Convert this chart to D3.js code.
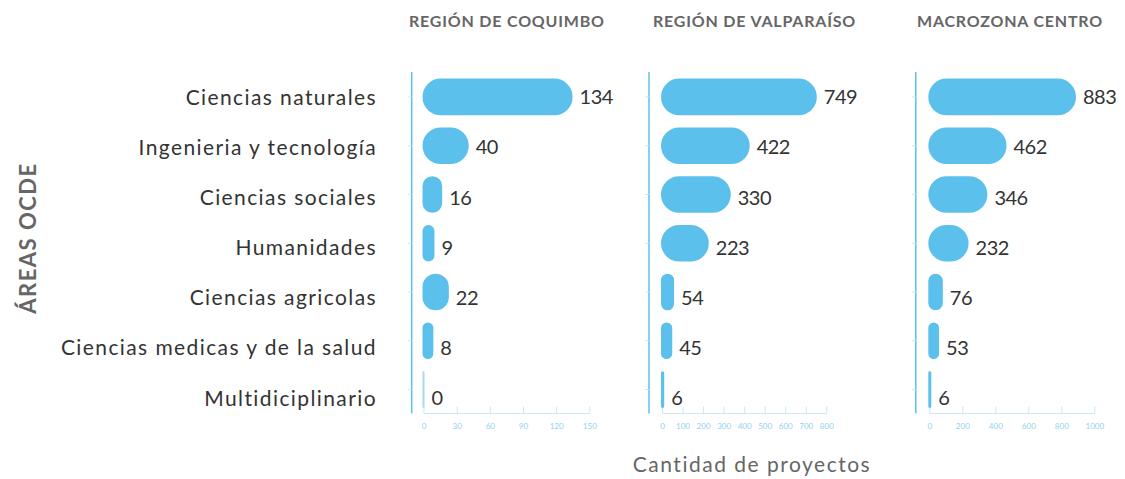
<!DOCTYPE html>
<html lang="es">
<head>
	<meta charset="UTF-8">
	<title>Áreas OCDE</title>
	<script src="https://d3js.org/d3.v7.min.js"></script>
	<style>
		body { margin: 0; background: #fff; }
		text { font-family: Lato, "Noto Sans", sans-serif; }
	</style>
</head>
<body>
	<div class="box"></div>

	<script type="text/javascript">
		let categories = ['Ciencias naturales', 'Ingenieria y tecnología', 'Ciencias sociales', 'Humanidades', 'Ciencias agricolas', 'Ciencias medicas y de la salud', 'Multidiciplinario']
		let regions = ['REGIÓN DE COQUIMBO', 'REGIÓN DE VALPARAÍSO', 'MACROZONA CENTRO']
		let coquimbo = [134, 40, 16, 9, 22, 8, 0]
		let valparaiso = [749, 422, 330, 223, 54, 45, 6]
		let macrozona = [883, 462, 346, 232, 76, 53, 6]
		let ticksCoquimbo = [0, 30, 60, 90, 120, 150]
		let ticksValparaiso = [0, 100, 200, 300, 400, 500, 600, 700, 800]
		let ticksMacrozona = [0, 200, 400, 600, 800, 1000]

		let width = 1125
		let height = 479
		let barColor = '#5bc0eb'
		let axisColor = '#5bc0eb'
		let lightAxis = '#c9e9f8'
		let tickText = '#8fd2f1'

		let svg = d3.select('.box').append('svg').attr('width', width).attr('height', height)

		// vertical band shared by all panels (bars)
		let y = d3.scaleBand()
			.domain(categories)
			.range([72.6, 413.9])
			.paddingInner(0.288)
			.paddingOuter(0.144)

		// labels sit on a slightly wider step than the bars
		let yLabel = d3.scalePoint()
			.domain(categories)
			.range([97, 398])

		let panels = [
			{ title: regions[0], data: coquimbo, ticks: ticksCoquimbo, titleX: 409, axisX: 411.7, x0: 423.5, x1: 589.3 },
			{ title: regions[1], data: valparaiso, ticks: ticksValparaiso, titleX: 653, axisX: 649, x0: 662, x1: 826.3 },
			{ title: regions[2], data: macrozona, ticks: ticksMacrozona, titleX: 917, axisX: 915.8, x0: 929.3, x1: 1094.3 }
		]

		// category labels
		svg.selectAll('text.cat').data(categories).enter().append('text')
			.attr('class', 'cat')
			.attr('x', 377)
			.attr('y', d => yLabel(d))
			.attr('dy', '0.36em')
			.attr('text-anchor', 'end')
			.attr('font-size', '21px')
			.attr('letter-spacing', '1.4px')
			.attr('fill', '#333')
			.text(d => d)

		// y axis title
		svg.append('text')
			.attr('transform', 'translate(36,238) rotate(-90)')
			.attr('text-anchor', 'middle')
			.attr('font-size', '22px')
			.attr('font-weight', 'bold')
			.attr('letter-spacing', '1.5px')
			.attr('fill', '#666')
			.text('ÁREAS OCDE')

		// x axis title
		svg.append('text')
			.attr('x', 752)
			.attr('y', 472)
			.attr('text-anchor', 'middle')
			.attr('font-size', '21px')
			.attr('letter-spacing', '1.5px')
			.attr('fill', '#666')
			.text('Cantidad de proyectos')

		panels.forEach(p => {
			let domainMax = p.ticks[p.ticks.length - 1]
			let x = d3.scaleLinear().domain([0, domainMax]).range([p.x0, p.x1])
			let g = svg.append('g')

			// panel title
			g.append('text')
				.attr('x', p.titleX)
				.attr('y', 27)
				.attr('font-size', '16px')
				.attr('font-weight', 'bold')
				.attr('letter-spacing', '0.8px')
				.attr('fill', '#666')
				.text(p.title)

			// x axis
			let xAxis = d3.axisBottom(x).tickValues(p.ticks).tickFormat(d3.format('d')).tickSize(-7).tickPadding(10)
			let ax = g.append('g').attr('transform', 'translate(0,' + 413.5 + ')').call(xAxis)
			ax.select('.domain').attr('stroke', lightAxis).attr('d', 'M' + p.x0 + ',0H' + p.x1)
			ax.selectAll('.tick line').attr('stroke', lightAxis)
			ax.selectAll('.tick text')
				.attr('fill', tickText)
				.attr('font-size', '8px')
				.attr('font-family', 'Lato, sans-serif')

			// y axis line with short ticks
			let yAxis = d3.axisLeft(y).tickSize(4).tickFormat('')
			let ay = g.append('g').attr('transform', 'translate(' + p.axisX + ',0)').call(yAxis)
			ay.select('.domain').attr('stroke', axisColor).attr('stroke-width', 1.5).attr('d', 'M0,72V413.5')
			ay.selectAll('.tick line').attr('stroke', lightAxis)

			// bars
			let bw = d => Math.max(x(d) - x(0), 0.01)
			g.selectAll('rect').data(p.data).enter().append('rect')
				.attr('x', x(0))
				.attr('y', (d, i) => y(categories[i]))
				.attr('width', bw)
				.attr('height', y.bandwidth())
				.attr('rx', d => Math.min(bw(d), y.bandwidth()) / 2)
				.attr('ry', d => Math.min(bw(d), y.bandwidth()) / 2)
				.attr('fill', barColor)
				.attr('stroke', d => d === 0 ? '#a9d9ef' : barColor)
				.attr('stroke-width', 2)

			// value labels
			g.selectAll('text.val').data(p.data).enter().append('text')
				.attr('class', 'val')
				.attr('x', d => x(d) + 8)
				.attr('y', (d, i) => yLabel(categories[i]))
				.attr('dy', '0.36em')
				.attr('font-size', '20px')
				.attr('letter-spacing', '-0.5px')
				.attr('fill', '#333')
				.text(d => d)
		})
	</script>
</body>
</html>
